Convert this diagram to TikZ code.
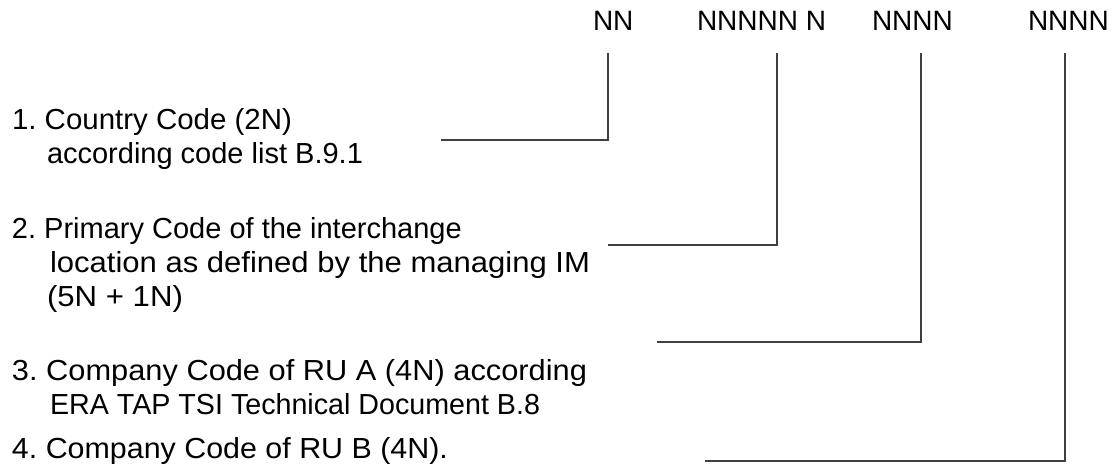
\documentclass[tikz,border=0pt]{standalone}
\usepackage{fontspec}
\setmainfont{Liberation Sans}
\newcommand{\fitw}[2]{\resizebox{#1pt}{\height}{#2}}
\begin{document}
\frenchspacing
\begin{tikzpicture}[x=1pt,y=-1pt,
  lbl/.style={anchor=base west,inner sep=0pt,outer sep=0pt,font=\fontsize{29}{34}\selectfont},
  hdr/.style={anchor=base west,inner sep=0pt,outer sep=0pt,font=\fontsize{28}{34}\selectfont},
  conn/.style={draw=black!75,line width=1.3pt}]
\useasboundingbox[fill=white] (0,0) rectangle (1116,475);
% header
\node[hdr] (h1) at (593,30) {NN};
\node[hdr] (h2) at (697,30) {NNNNN N};
\node[hdr] (h3) at (872,30) {NNNN};
\node[hdr] (h4) at (1028,30) {NNNN};
% items
\node[lbl] (i1a) at (12,129) {\fitw{280}{1. Country Code (2N)}};
\node[lbl] (i1b) at (47,163) {according code list B.9.1};
\node[lbl] (i2a) at (12,238) {2. Primary Code of the interchange};
\node[lbl] (i2b) at (50,272) {\fitw{540}{location as defined by the managing IM}};
\node[lbl] (i2c) at (47,306) {\fitw{136}{(5N + 1N)}};
\node[lbl] (i3a) at (12,380) {\fitw{575}{3. Company Code of RU A (4N) according}};
\node[lbl] (i3b) at (50,414) {\fitw{490}{ERA TAP TSI Technical Document B.8}};
\node[lbl] (i4a) at (12,458) {\fitw{436}{4. Company Code of RU B (4N).}};
% connector ends
\coordinate (s1) at (441,140);
\coordinate (t1) at (608,53);
\coordinate (s2) at (608,245);
\coordinate (t2) at (777,53);
\coordinate (s3) at (657,342);
\coordinate (t3) at (921,53);
\coordinate (s4) at (705,461);
\coordinate (t4) at (1065,53);
\draw[conn] (s1) -| (t1);
\draw[conn] (s2) -| (t2);
\draw[conn] (s3) -| (t3);
\draw[conn] (s4) -| (t4);
\end{tikzpicture}
\end{document}
